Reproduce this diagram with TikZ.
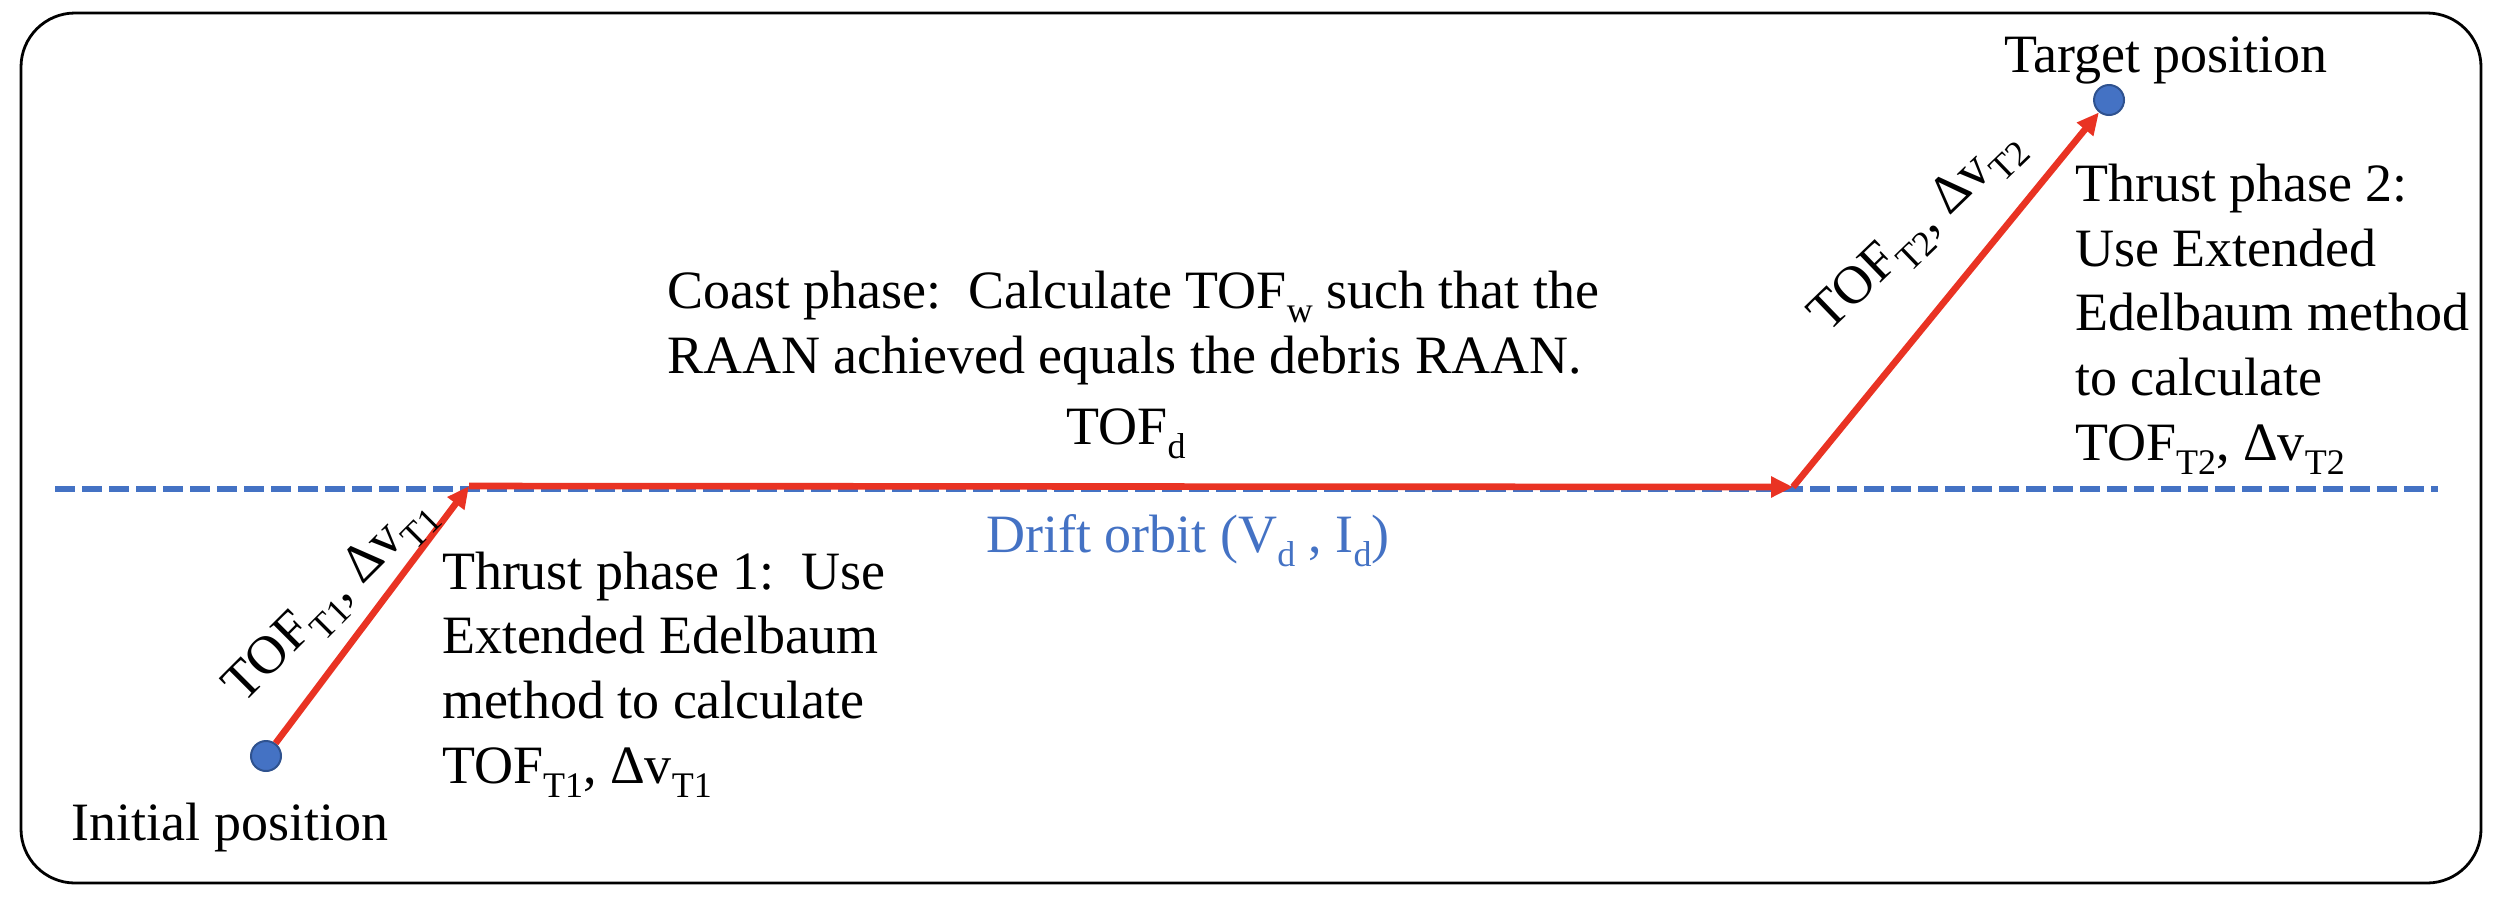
\documentclass[tikz,border=0pt]{standalone}
\usepackage{fontspec}
\setmainfont{Liberation Serif}
\usetikzlibrary{arrows.meta}
\definecolor{dotblue}{HTML}{4472C4}
\definecolor{dotedge}{HTML}{2F528F}
\definecolor{arrred}{RGB}{233,51,35}
\newcommand\subt[1]{\raisebox{-7pt}{\fontsize{18}{18}\selectfont #1}}
\tikzset{
  txt/.style={inner sep=0pt, outer sep=0pt, align=left},
  posdot/.style={circle, minimum size=15pt, inner sep=0pt, fill=dotblue, draw=dotedge, line width=1pt},
  redarrow/.style={draw=arrred, line width=3.3pt, -{Triangle[length=11pt,width=10pt]}},
  orbit/.style={draw=dotblue, line width=3.2pt, dash pattern=on 10pt off 3.5pt},
  frame/.style={draw=black, line width=1.4pt, rounded corners=27pt},
}
\begin{document}
\begin{tikzpicture}[x=0.5pt, y=-0.5pt, font=\fontsize{27}{32.3}\selectfont]
\useasboundingbox (0,0) rectangle (2498,900);
\draw[frame] (21,13) rectangle (2481,883);
\coordinate (orbL) at (55,489);
\coordinate (orbR) at (2438,489);
\draw[orbit] (orbL) -- (orbR);
\node[posdot] (init) at (266,756) {};
\node[posdot] (target) at (2109,100) {};
\coordinate (c1) at (469,486);
\coordinate (c2) at (1793,487);
\draw[redarrow] (init) -- (c1);
\draw[redarrow] (c1) -- (c2);
\draw[redarrow] (c2) -- (target);
\node[txt, anchor=base] (initlbl) at (230,840) {Initial position};
\node[txt, anchor=base] (tgtlbl) at (2166,72) {Target position};
\node[txt, anchor=base west] (tp1) at (442,783) {Thrust phase 1:\ \ Use\\Extended Edelbaum\\method to calculate\\TOF\subt{T1}, Δv\subt{T1}};
\node[txt, anchor=base west] (tp2) at (2075,460) {Thrust phase 2:\\Use Extended\\Edelbaum method\\to calculate\\TOF\subt{T2}, Δv\subt{T2}};
\node[txt, anchor=base west] (coast) at (667,373) {Coast phase:\ \ Calculate TOF\subt{w} such that the\\RAAN achieved equals the debris RAAN.};
\node[txt, anchor=base] (tofd) at (1126,444) {TOF\subt{d}};
\node[txt, anchor=base, text=dotblue] (drift) at (1188,552) {Drift orbit (V\subt{d} , I\subt{d})};
\node[txt, rotate=45] (lbl1) at (331,601) {TOF\subt{T1}, Δv\subt{T1}};
\node[txt, rotate=44] (lbl2) at (1918,232) {TOF\subt{T2}, Δv\subt{T2}};
\end{tikzpicture}
\end{document}
